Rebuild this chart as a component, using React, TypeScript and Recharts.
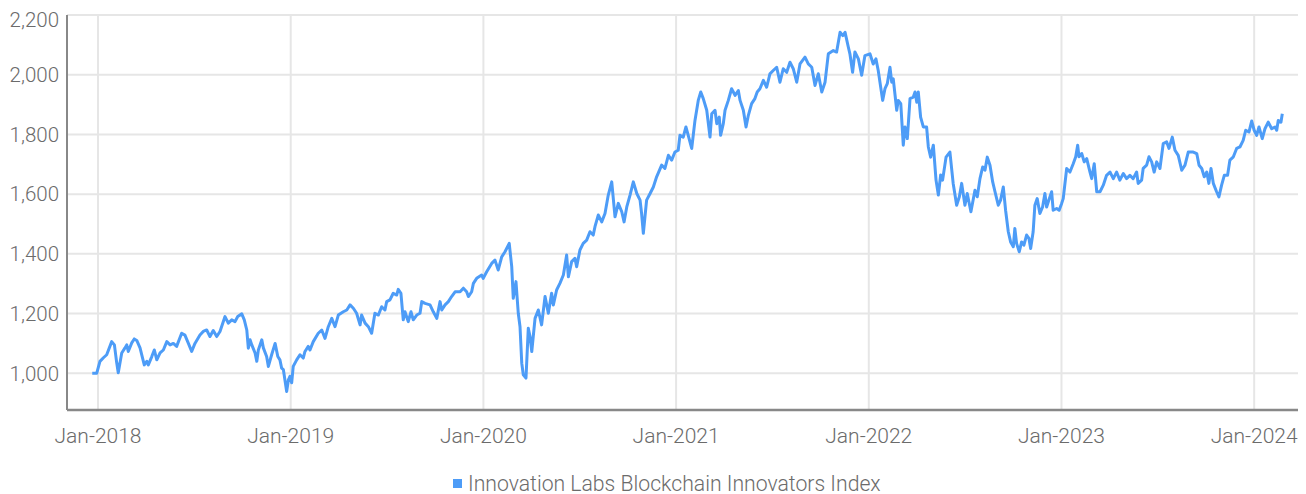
import { LineChart, Line, XAxis, YAxis, CartesianGrid } from 'recharts';

// time axis in fractional years, values of the index
const years = [
  2017.970, 2017.993, 2018.010, 2018.028, 2018.045, 2018.071, 2018.085, 2018.097, 2018.105, 2018.123,
  2018.140, 2018.149, 2018.157, 2018.175, 2018.188, 2018.201, 2018.218, 2018.227, 2018.240, 2018.253,
  2018.261, 2018.279, 2018.292, 2018.305, 2018.322, 2018.339, 2018.357, 2018.374, 2018.391, 2018.408,
  2018.434, 2018.451, 2018.469, 2018.486, 2018.503, 2018.529, 2018.546, 2018.564, 2018.581, 2018.598,
  2018.616, 2018.633, 2018.659, 2018.676, 2018.694, 2018.711, 2018.725, 2018.746, 2018.759, 2018.772,
  2018.780, 2018.789, 2018.798, 2018.815, 2018.824, 2018.832, 2018.850, 2018.858, 2018.875, 2018.884,
  2018.901, 2018.919, 2018.933, 2018.944, 2018.953, 2018.962, 2018.979, 2018.988, 2018.996, 2019.005,
  2019.013, 2019.031, 2019.048, 2019.065, 2019.074, 2019.091, 2019.100, 2019.117, 2019.143, 2019.161,
  2019.178, 2019.195, 2019.213, 2019.230, 2019.247, 2019.273, 2019.291, 2019.308, 2019.325, 2019.342,
  2019.360, 2019.368, 2019.386, 2019.403, 2019.420, 2019.437, 2019.455, 2019.472, 2019.489, 2019.498,
  2019.515, 2019.532, 2019.550, 2019.558, 2019.572, 2019.584, 2019.593, 2019.610, 2019.624, 2019.636,
  2019.654, 2019.671, 2019.680, 2019.697, 2019.723, 2019.740, 2019.758, 2019.775, 2019.784, 2019.801,
  2019.818, 2019.835, 2019.853, 2019.879, 2019.896, 2019.913, 2019.922, 2019.939, 2019.948, 2019.965,
  2019.991, 2019.999, 2020.017, 2020.043, 2020.060, 2020.077, 2020.095, 2020.112, 2020.134, 2020.147,
  2020.155, 2020.169, 2020.181, 2020.190, 2020.199, 2020.207, 2020.221, 2020.233, 2020.242, 2020.251,
  2020.268, 2020.285, 2020.302, 2020.320, 2020.337, 2020.354, 2020.363, 2020.380, 2020.397, 2020.415,
  2020.432, 2020.441, 2020.458, 2020.475, 2020.484, 2020.501, 2020.518, 2020.536, 2020.553, 2020.570,
  2020.579, 2020.596, 2020.614, 2020.631, 2020.648, 2020.666, 2020.683, 2020.700, 2020.718, 2020.730,
  2020.744, 2020.761, 2020.778, 2020.796, 2020.813, 2020.821, 2020.830, 2020.847, 2020.865, 2020.882,
  2020.899, 2020.925, 2020.942, 2020.960, 2020.977, 2020.994, 2021.011, 2021.020, 2021.037, 2021.051,
  2021.063, 2021.081, 2021.098, 2021.115, 2021.128, 2021.141, 2021.159, 2021.176, 2021.185, 2021.202,
  2021.211, 2021.224, 2021.231, 2021.245, 2021.254, 2021.271, 2021.288, 2021.306, 2021.323, 2021.332,
  2021.349, 2021.363, 2021.375, 2021.392, 2021.409, 2021.421, 2021.435, 2021.453, 2021.470, 2021.487,
  2021.504, 2021.522, 2021.539, 2021.556, 2021.574, 2021.591, 2021.608, 2021.626, 2021.643, 2021.669,
  2021.686, 2021.704, 2021.721, 2021.738, 2021.756, 2021.773, 2021.790, 2021.816, 2021.833, 2021.851,
  2021.865, 2021.877, 2021.894, 2021.902, 2021.916, 2021.928, 2021.946, 2021.963, 2021.980, 2022.006,
  2022.023, 2022.037, 2022.049, 2022.072, 2022.084, 2022.096, 2022.110, 2022.119, 2022.127, 2022.145,
  2022.153, 2022.166, 2022.179, 2022.188, 2022.200, 2022.214, 2022.231, 2022.240, 2022.249, 2022.257,
  2022.269, 2022.283, 2022.300, 2022.309, 2022.321, 2022.335, 2022.349, 2022.361, 2022.373, 2022.383,
  2022.401, 2022.421, 2022.438, 2022.456, 2022.470, 2022.482, 2022.499, 2022.511, 2022.530, 2022.551,
  2022.563, 2022.577, 2022.591, 2022.603, 2022.615, 2022.629, 2022.643, 2022.655, 2022.672, 2022.684,
  2022.698, 2022.710, 2022.724, 2022.736, 2022.750, 2022.758, 2022.767, 2022.781, 2022.793, 2022.805,
  2022.819, 2022.831, 2022.840, 2022.853, 2022.862, 2022.874, 2022.888, 2022.902, 2022.914, 2022.923,
  2022.937, 2022.949, 2022.957, 2022.975, 2022.988, 2023.001, 2023.009, 2023.027, 2023.044, 2023.061,
  2023.074, 2023.084, 2023.091, 2023.105, 2023.118, 2023.131, 2023.148, 2023.157, 2023.170, 2023.183,
  2023.200, 2023.217, 2023.234, 2023.252, 2023.269, 2023.286, 2023.303, 2023.321, 2023.338, 2023.355,
  2023.372, 2023.390, 2023.398, 2023.416, 2023.424, 2023.442, 2023.454, 2023.468, 2023.481, 2023.494,
  2023.511, 2023.528, 2023.546, 2023.558, 2023.575, 2023.589, 2023.606, 2023.624, 2023.641, 2023.658,
  2023.684, 2023.702, 2023.714, 2023.728, 2023.741, 2023.754, 2023.765, 2023.776, 2023.788, 2023.805,
  2023.817, 2023.831, 2023.845, 2023.862, 2023.874, 2023.892, 2023.909, 2023.926, 2023.943, 2023.956,
  2023.973, 2023.987, 2024.000, 2024.013, 2024.025, 2024.042, 2024.056, 2024.073, 2024.091, 2024.108,
  2024.117, 2024.125, 2024.139, 2024.146,
];

const indexValues = [
  1000, 1000, 1040, 1052, 1062, 1106, 1095, 1035, 1002, 1068,
  1085, 1095, 1073, 1102, 1115, 1110, 1085, 1062, 1028, 1040,
  1028, 1056, 1078, 1045, 1068, 1078, 1106, 1095, 1100, 1090,
  1134, 1128, 1100, 1073, 1100, 1128, 1140, 1145, 1123, 1143,
  1123, 1140, 1190, 1168, 1179, 1173, 1190, 1199, 1179, 1145,
  1084, 1112, 1095, 1068, 1040, 1078, 1112, 1085, 1056, 1023,
  1062, 1100, 1056, 1045, 1017, 1012, 939, 978, 990, 968,
  1023, 1045, 1062, 1051, 1073, 1090, 1078, 1106, 1134, 1145,
  1117, 1156, 1184, 1156, 1195, 1206, 1212, 1229, 1218, 1201,
  1162, 1195, 1168, 1156, 1134, 1201, 1195, 1223, 1212, 1240,
  1246, 1268, 1262, 1281, 1268, 1179, 1206, 1173, 1206, 1179,
  1195, 1201, 1240, 1234, 1229, 1206, 1184, 1240, 1212, 1229,
  1240, 1257, 1273, 1273, 1285, 1273, 1257, 1273, 1301, 1318,
  1329, 1318, 1340, 1368, 1379, 1346, 1390, 1407, 1435, 1357,
  1251, 1307, 1201, 1156, 1034, 995, 984, 1151, 1123, 1073,
  1184, 1212, 1162, 1257, 1201, 1268, 1229, 1279, 1301, 1329,
  1396, 1323, 1374, 1385, 1357, 1413, 1435, 1446, 1474, 1463,
  1491, 1530, 1507, 1535, 1597, 1641, 1524, 1569, 1541, 1507,
  1557, 1597, 1641, 1602, 1580, 1535, 1469, 1580, 1602, 1624,
  1658, 1697, 1686, 1730, 1714, 1741, 1747, 1797, 1791, 1825,
  1797, 1753, 1847, 1914, 1942, 1920, 1881, 1791, 1869, 1881,
  1836, 1858, 1797, 1836, 1881, 1914, 1953, 1931, 1947, 1914,
  1881, 1825, 1864, 1903, 1920, 1942, 1953, 1981, 1958, 2003,
  2014, 2025, 1975, 2020, 2008, 2042, 2020, 1975, 2036, 2059,
  2036, 2025, 1964, 2003, 1942, 1975, 2070, 2081, 2076, 2142,
  2131, 2142, 2092, 2070, 2008, 2076, 2053, 1998, 2064, 2070,
  2036, 2053, 2014, 1914, 1953, 1970, 2025, 1975, 1986, 1881,
  1914, 1903, 1764, 1825, 1786, 1920, 1925, 1942, 1908, 1942,
  1858, 1825, 1825, 1758, 1724, 1764, 1647, 1597, 1664, 1647,
  1724, 1741, 1636, 1563, 1591, 1636, 1563, 1602, 1541, 1613,
  1591, 1652, 1691, 1680, 1724, 1697, 1641, 1608, 1563, 1580,
  1624, 1546, 1474, 1440, 1424, 1485, 1435, 1407, 1440, 1429,
  1463, 1452, 1418, 1474, 1563, 1585, 1535, 1557, 1602, 1557,
  1585, 1608, 1546, 1552, 1546, 1569, 1585, 1686, 1674, 1702,
  1725, 1764, 1725, 1736, 1708, 1719, 1674, 1652, 1702, 1608,
  1608, 1630, 1663, 1674, 1652, 1674, 1647, 1669, 1652, 1663,
  1652, 1674, 1636, 1647, 1686, 1697, 1725, 1708, 1674, 1708,
  1686, 1769, 1775, 1753, 1791, 1747, 1730, 1680, 1697, 1741,
  1741, 1736, 1697, 1686, 1658, 1674, 1636, 1686, 1636, 1608,
  1591, 1630, 1663, 1663, 1714, 1725, 1753, 1758, 1780, 1814,
  1808, 1845, 1814, 1797, 1825, 1786, 1819, 1841, 1819, 1825,
  1814, 1847, 1841, 1869,
];

const yearTicks = [2018, 2019, 2020, 2021, 2022, 2023, 2024];
const valueTicks = [1000, 1200, 1400, 1600, 1800, 2000, 2200];
const seriesName = 'Innovation Labs Blockchain Innovators Index';

const data = years.map((t, i) => ({ t, value: indexValues[i] }));

const textColor = '#6b6b6b';
const lineColor = '#4d9cf7';
const xTickFont = { fontFamily: 'Roboto, sans-serif', fontWeight: 300, fontSize: 21, fill: textColor };
const yTickFont = { fontFamily: 'Roboto, sans-serif', fontWeight: 300, fontSize: 20.5, fill: textColor };

export default function App() {
  return (
    <div style={{ width: 1298, background: '#fff' }}>
      <LineChart width={1298} height={450} data={data} margin={{ top: 7, right: 0, left: 0, bottom: 0 }}>
        <CartesianGrid stroke="#e6e6e6" strokeWidth={2} />
        <XAxis
          dataKey="t"
          type="number"
          domain={[2017.839, 2024.269]}
          ticks={yearTicks}
          tickFormatter={(v: number) => `Jan-${v}`}
          tick={xTickFont}
          tickLine={false}
          tickMargin={12}
          height={48}
          axisLine={{ stroke: '#888', strokeWidth: 2.5 }}
          allowDataOverflow
        />
        <YAxis
          type="number"
          domain={[877, 2200]}
          ticks={valueTicks}
          tickFormatter={(v: number) => v.toLocaleString('en-US')}
          tick={yTickFont}
          tickLine={false}
          width={59}
          axisLine={{ stroke: '#888', strokeWidth: 2 }}
          allowDataOverflow
        />
        <Line
          type="linear"
          dataKey="value"
          name={seriesName}
          stroke={lineColor}
          strokeWidth={3}
          strokeLinejoin="round"
          dot={false}
          isAnimationActive={false}
        />
      </LineChart>
      <div
        style={{
          height: 28,
          marginTop: 11,
          display: 'flex',
          alignItems: 'center',
          paddingLeft: 445,
          fontFamily: 'Roboto, sans-serif',
          fontWeight: 300,
          fontSize: 21.2,
          color: textColor,
        }}
      >
        <span style={{ width: 9, height: 9, background: lineColor, marginRight: 6, display: 'inline-block' }} />
        <span>{seriesName}</span>
      </div>
    </div>
  );
}
